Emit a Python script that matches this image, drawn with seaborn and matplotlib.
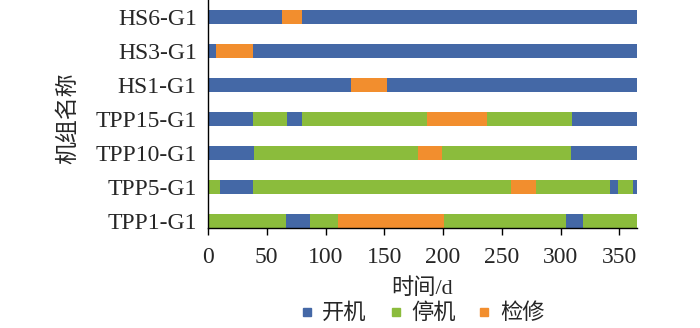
import matplotlib
matplotlib.use("Agg")
import matplotlib.pyplot as plt
from matplotlib.lines import Line2D
import seaborn as sns
import pandas as pd

# ---------------- data ----------------
units = ["HS6-G1", "HS3-G1", "HS1-G1", "TPP15-G1", "TPP10-G1", "TPP5-G1", "TPP1-G1"]
state_names = ["开机", "停机", "检修"]
state_colors = ["#4468A6", "#8BBC3C", "#F28E2E"]

# segment end days and state of each segment, per unit
hs6_end = [63, 80, 365]
hs6_state = ["开机", "检修", "开机"]
hs3_end = [7, 38, 365]
hs3_state = ["开机", "检修", "开机"]
hs1_end = [122, 152, 365]
hs1_state = ["开机", "检修", "开机"]
tpp15_end = [38, 67, 80, 186, 237, 310, 365]
tpp15_state = ["开机", "停机", "开机", "停机", "检修", "停机", "开机"]
tpp10_end = [39, 179, 199, 309, 365]
tpp10_state = ["开机", "停机", "检修", "停机", "开机"]
tpp5_end = [10, 38, 258, 279, 342, 349, 362, 365]
tpp5_state = ["停机", "开机", "停机", "检修", "停机", "开机", "停机", "开机"]
tpp1_end = [66, 87, 111, 201, 305, 319, 365]
tpp1_state = ["停机", "开机", "停机", "检修", "停机", "开机", "停机"]

x_ticks = [0, 50, 100, 150, 200, 250, 300, 350]

# ---------------- build table ----------------
ends = [hs6_end, hs3_end, hs1_end, tpp15_end, tpp10_end, tpp5_end, tpp1_end]
states = [hs6_state, hs3_state, hs1_state, tpp15_state, tpp10_state, tpp5_state, tpp1_state]
rows = []
for u, e_list, s_list in zip(units, ends, states):
    for k, (e, s) in enumerate(zip(e_list, s_list)):
        rows.append({"unit": u, "seg": k, "end": e, "state": s})
df = pd.DataFrame(rows)

# ---------------- style ----------------
sns.set_theme(style="white")
plt.rcParams["font.family"] = ["Liberation Serif", "Noto Sans CJK SC", "DejaVu Sans"]

fig = plt.figure(figsize=(7.0, 3.28), dpi=100)
ax = fig.add_axes([0.2971, 0.3034, 0.91 - 0.2971, 1.0 - 0.3034])

palette = dict(zip(state_names, state_colors))
max_seg = df["seg"].max()
# draw cumulative bars from the last segment to the first so earlier ones overlay
for k in range(max_seg, -1, -1):
    sub = df[df["seg"] == k]
    sns.barplot(data=sub, x="end", y="unit", hue="state", order=units,
                hue_order=state_names, palette=palette, dodge=False,
                width=0.41, saturation=1, linewidth=0, legend=False,
                orient="h", ax=ax)

ax.set_xlim(0, 365)
ax.set_ylim(6.22, -0.5)
ax.set_xticks(x_ticks)
ax.set_xticklabels([str(t) for t in x_ticks], fontsize=17)
ax.tick_params(axis="y", labelsize=17, length=0, pad=8)
ax.tick_params(axis="x", length=5, width=1, color="black", direction="out",
               bottom=True, pad=8)
for sp in ["top", "right"]:
    ax.spines[sp].set_visible(False)
for sp in ["left", "bottom"]:
    ax.spines[sp].set_color("black")
    ax.spines[sp].set_linewidth(1.0)
ax.grid(False)

ax.set_xlabel("时间/d", fontsize=16, labelpad=8)
ax.set_ylabel("")
fig.text(69 / 700, 1 - 118 / 328, "机组名称", rotation=90, fontsize=16.5,
         ha="center", va="center")

handles = [Line2D([0], [0], marker="s", linestyle="none", markersize=6,
                  markerfacecolor=c, markeredgecolor=c) for c in state_colors]
fig.legend(handles, state_names, loc="center", ncol=3,
           bbox_to_anchor=(420 / 700, 1 - 314 / 328), frameon=False,
           fontsize=16, handletextpad=0.2, columnspacing=0.8, handlelength=1.0,
           borderpad=0, borderaxespad=0)

fig.savefig("out.png", dpi=100)
